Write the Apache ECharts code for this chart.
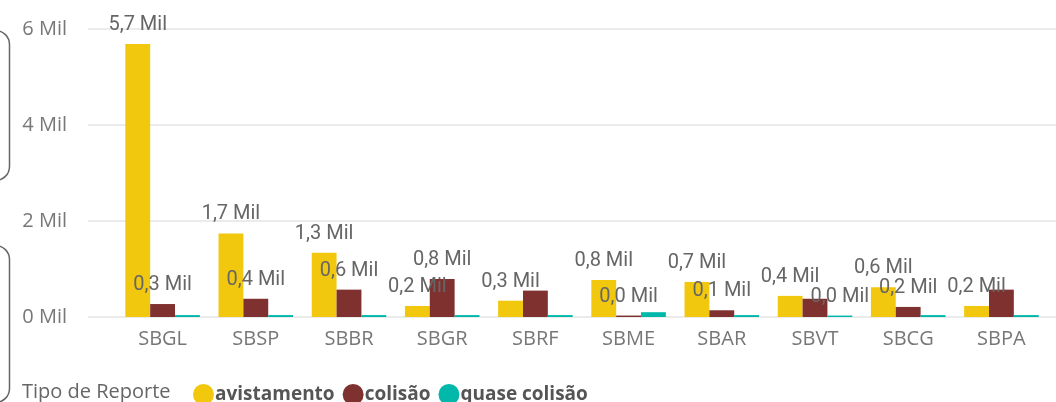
<!DOCTYPE html>
<html>
<head>
<meta charset="utf-8">
<script src="https://cdn.jsdelivr.net/npm/echarts@6/dist/echarts.min.js"></script>
<style>
  html, body { margin: 0; padding: 0; background: #fff; }
  #main_1 { width: 1056px; height: 402px; }
</style>
</head>
<body>
<div id="main_1"></div>
<script>
// aeroportos
const categorias = ["SBGL", "SBSP", "SBBR", "SBGR", "SBRF", "SBME", "SBAR", "SBVT", "SBCG", "SBPA"];

// valores por tipo de reporte
const avistamento = [5690, 1740, 1340, 230, 340, 770, 730, 440, 620, 230];
const colisao = [270, 380, 570, 790, 550, 30, 140, 380, 210, 570];
const quaseColisao = [40, 40, 40, 40, 40, 100, 40, 30, 40, 40];

// rotulos que o power bi mostrou (os outros ficaram escondidos por sobreposicao)
const rotulosColisao = ["SBGL", "SBSP", "SBBR", "SBGR", "SBME", "SBAR", "SBCG"];
const rotulosQuase = ["SBVT"];

const yTicks = [0, 2000, 4000, 6000];

function fmtMil(v) {
  return (v / 1000).toFixed(1).replace(".", ",") + " Mil";
}

const labelBase = {
  show: true,
  position: "top",
  distance: 9,
  color: "#666",
  fontFamily: "Roboto",
  fontSize: 20,
};

function makeLabel(lista) {
  return Object.assign({}, labelBase, {
    formatter: (p) => (lista === null || lista.includes(p.name) ? fmtMil(p.value) : ""),
  });
}

const chartDom = document.getElementById("main_1");
const myChart = echarts.init(chartDom, null, { renderer: "canvas" });

const option = {
  animation: false,
  color: ["#F2C80F", "#7F312F", "#01B8AA"],
  title: {
    text: "Tipo de Reporte",
    left: 17,
    top: 377,
    textStyle: { color: "#666", fontFamily: "Open Sans", fontSize: 20, fontWeight: "normal" },
  },
  legend: {
    left: 188,
    top: 379,
    icon: "circle",
    itemWidth: 21,
    itemHeight: 21,
    itemGap: 8,
    textStyle: { color: "#555", fontFamily: "Open Sans", fontSize: 19, fontWeight: "bold", padding: [0, 0, 0, -4] },
    data: ["avistamento", "colisão", "quase colisão"],
  },
  grid: [
    { left: 88, right: 0, top: 29, bottom: 85 },
    { left: 116, right: 8, top: 29, bottom: 85 },
  ],
  xAxis: [
    { gridIndex: 0, type: "category", data: categorias, show: false },
    {
      gridIndex: 1,
      type: "category",
      data: categorias,
      axisLine: { show: false },
      axisTick: { show: false },
      axisLabel: { color: "#777", fontFamily: "Open Sans", fontSize: 20, margin: 12 },
    },
  ],
  yAxis: [
    {
      gridIndex: 0,
      type: "value",
      min: yTicks[0],
      max: yTicks[yTicks.length - 1],
      interval: 2000,
      axisLine: { show: false },
      axisTick: { show: false },
      axisLabel: { color: "#777", fontFamily: "Open Sans", fontSize: 20, margin: 21, formatter: (v) => v / 1000 + " Mil" },
      splitLine: { lineStyle: { color: "#ebebeb", width: 2 } },
    },
    { gridIndex: 1, type: "value", min: 0, max: 6000, show: false },
  ],
  series: [
    {
      name: "avistamento",
      type: "bar",
      xAxisIndex: 1,
      yAxisIndex: 1,
      barGap: "0%",
      barCategoryGap: "20%",
      data: avistamento,
      label: makeLabel(null),
    },
    {
      name: "colisão",
      type: "bar",
      xAxisIndex: 1,
      yAxisIndex: 1,
      data: colisao,
      label: makeLabel(rotulosColisao),
    },
    {
      name: "quase colisão",
      type: "bar",
      xAxisIndex: 1,
      yAxisIndex: 1,
      data: quaseColisao,
      label: makeLabel(rotulosQuase),
    },
  ],
  graphic: [
    // bordas de outros visuais cortadas na esquerda
    { type: "rect", left: -40, top: 28, shape: { width: 47, height: 150, r: 14 }, style: { fill: "none", stroke: "#666", lineWidth: 1.5 } },
    { type: "rect", left: -40, top: 243, shape: { width: 47, height: 157, r: 14 }, style: { fill: "none", stroke: "#666", lineWidth: 1.5 } },
  ],
};

option && myChart.setOption(option);
</script>
</body>
</html>
